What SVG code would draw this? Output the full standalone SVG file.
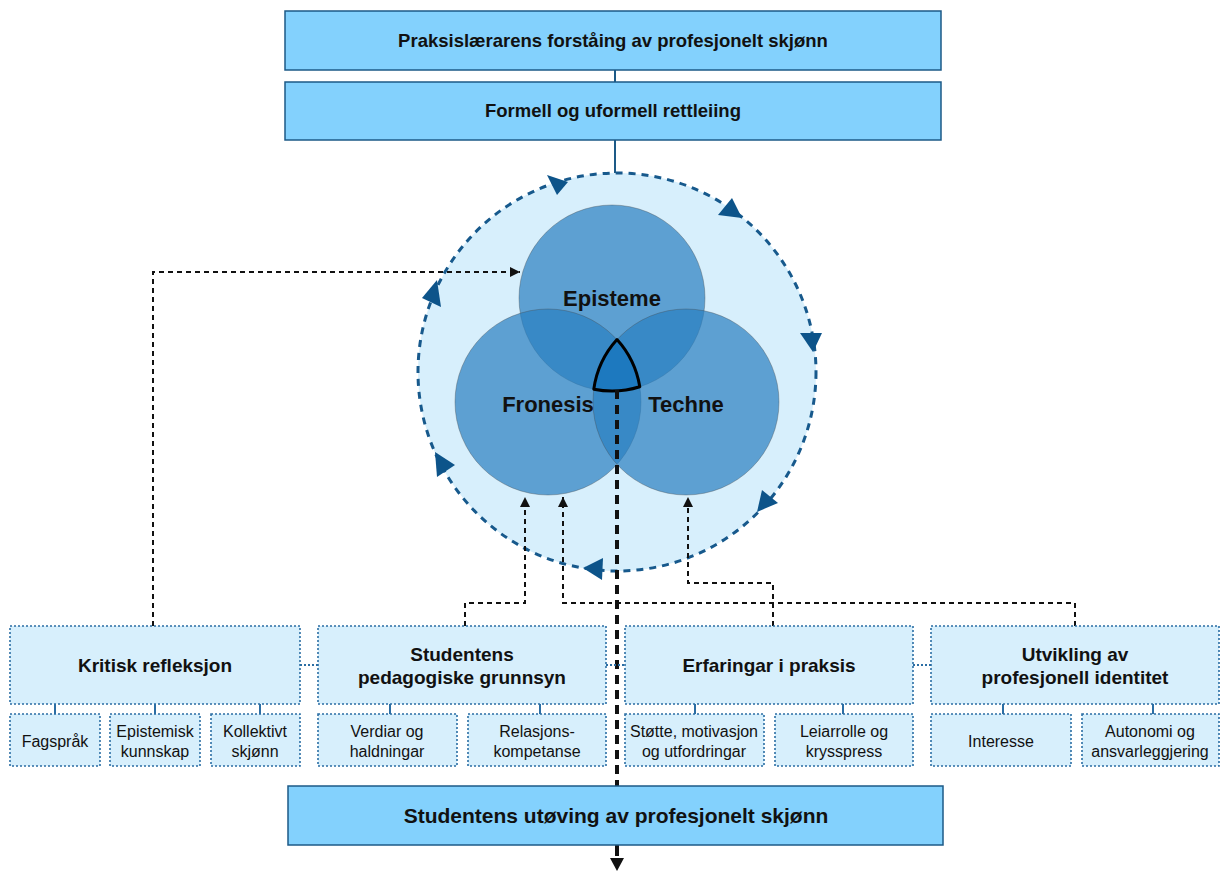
<svg xmlns="http://www.w3.org/2000/svg" width="1221" height="873" viewBox="0 0 1221 873">
<style>
text{font-family:"Liberation Sans",Arial,sans-serif;fill:#111;text-anchor:middle}
.hb{fill:#83d1fd;stroke:#1d5a87;stroke-width:1.5}
.mb{fill:#d7effc;stroke:#2b6ea4;stroke-width:1.6;stroke-dasharray:2 2}
.t1{font-size:18.5px;font-weight:bold}
.t2{font-size:21px;font-weight:bold}
.tm{font-size:19px;font-weight:bold}
.ts{font-size:16px}
.tv{font-size:22px;font-weight:bold}
.venn{fill:#2a7fc0;fill-opacity:0.7;stroke:#444;stroke-opacity:0.35;stroke-width:1}
.bl{fill:none;stroke:#111;stroke-width:2;stroke-dasharray:5 4}
.sub{stroke:#2b6ea4;stroke-width:2}
.dot{fill:none;stroke:#2b6ea4;stroke-width:2;stroke-dasharray:2 2}
.ah{fill:#0d548a}
</style>
<defs>
<marker id="blk" markerUnits="userSpaceOnUse" markerWidth="12" markerHeight="12" refX="10" refY="5" orient="auto">
<path d="M0,0 L10,5 L0,10 Z" fill="#111"/>
</marker>
</defs>

<g id="cycle">
<circle cx="617" cy="372" r="199" fill="#d7effc" stroke="#17598c" stroke-width="3" stroke-dasharray="7 6"/>
<polygon class="ah" points="547,175 568,182 557,195"/>
<polygon class="ah" points="732,198 718,215 742,218"/>
<polygon class="ah" points="800,333 822,333 813,352"/>
<polygon class="ah" points="762,490 778,503 757,512"/>
<polygon class="ah" points="583,568 603,558 602,580"/>
<polygon class="ah" points="435,452 455,465 437,477"/>
<polygon class="ah" points="422,298 437,280 441,307"/>
</g>

<g id="venn">
<circle class="venn" cx="612" cy="298" r="93"/>
<circle class="venn" cx="548" cy="402" r="93"/>
<circle class="venn" cx="686" cy="402" r="93"/>
<path d="M593.8,389.3 A93,93 0 0 1 617,339.6 A93,93 0 0 1 639.8,386.8 A93,93 0 0 1 593.8,389.3 Z" fill="#1d79bf" stroke="#000" stroke-width="3" stroke-linejoin="round"/>
<text class="tv" x="612" y="306">Episteme</text>
<text class="tv" x="548" y="412">Fronesis</text>
<text class="tv" x="686" y="412">Techne</text>
</g>

<g id="connectors">
<line x1="615" y1="70" x2="615" y2="82" stroke="#1d5a87" stroke-width="2"/>
<line x1="615" y1="140" x2="615" y2="173" stroke="#1d5a87" stroke-width="2"/>
<path class="bl" d="M153,626 V272 H520" marker-end="url(#blk)"/>
<path class="bl" d="M465,626 V603 H525 V497" marker-end="url(#blk)"/>
<path class="bl" d="M1075,626 V603 H563 V497" marker-end="url(#blk)"/>
<path class="bl" d="M773,626 V583 H688 V497" marker-end="url(#blk)"/>
<line x1="617" y1="390" x2="617" y2="786" stroke="#111" stroke-width="4" stroke-dasharray="9 6"/>
<line x1="617" y1="845" x2="617" y2="856" stroke="#111" stroke-width="4"/>
<polygon points="610,858 624,858 617,871" fill="#111"/>
<path class="dot" d="M300,665 H318 M606,665 H625 M913,665 H931"/>
<path class="sub" d="M55,704 V714 M155,704 V714 M260,704 V714 M390,704 V714 M540,704 V714 M695,704 V714 M843,704 V714 M1003,704 V714 M1153,704 V714"/>
</g>

<g id="n-praksislaerar">
<rect class="hb" x="285" y="11" width="656" height="59"/>
<text class="t1" x="613" y="47">Praksislærarens forståing av profesjonelt skjønn</text>
</g>
<g id="n-rettleiing">
<rect class="hb" x="285" y="82" width="656" height="58"/>
<text class="t1" x="613" y="117">Formell og uformell rettleiing</text>
</g>

<g id="n-kritisk">
<rect class="mb" x="10" y="626" width="290" height="78"/>
<text class="tm" x="155" y="672">Kritisk refleksjon</text>
</g>
<g id="n-grunnsyn">
<rect class="mb" x="318" y="626" width="288" height="78"/>
<text class="tm" x="462" y="661">Studentens</text>
<text class="tm" x="462" y="684">pedagogiske grunnsyn</text>
</g>
<g id="n-erfaringar">
<rect class="mb" x="625" y="626" width="288" height="78"/>
<text class="tm" x="769" y="672">Erfaringar i praksis</text>
</g>
<g id="n-identitet">
<rect class="mb" x="931" y="626" width="288" height="78"/>
<text class="tm" x="1075" y="661">Utvikling av</text>
<text class="tm" x="1075" y="684">profesjonell identitet</text>
</g>

<g id="n-fagsprak">
<rect class="mb" x="10" y="714" width="90" height="52"/>
<text class="ts" x="55" y="747">Fagspråk</text>
</g>
<g id="n-epistemisk">
<rect class="mb" x="110" y="714" width="90" height="52"/>
<text class="ts" x="155" y="737">Epistemisk</text>
<text class="ts" x="155" y="757">kunnskap</text>
</g>
<g id="n-kollektivt">
<rect class="mb" x="211" y="714" width="89" height="52"/>
<text class="ts" x="255" y="737">Kollektivt</text>
<text class="ts" x="255" y="757">skjønn</text>
</g>
<g id="n-verdiar">
<rect class="mb" x="318" y="714" width="139" height="52"/>
<text class="ts" x="387" y="737">Verdiar og</text>
<text class="ts" x="387" y="757">haldningar</text>
</g>
<g id="n-relasjons">
<rect class="mb" x="468" y="714" width="138" height="52"/>
<text class="ts" x="537" y="737">Relasjons-</text>
<text class="ts" x="537" y="757">kompetanse</text>
</g>
<g id="n-stotte">
<rect class="mb" x="625" y="714" width="139" height="52"/>
<text class="ts" x="694" y="737">Støtte, motivasjon</text>
<text class="ts" x="694" y="757">og utfordringar</text>
</g>
<g id="n-leiarrolle">
<rect class="mb" x="775" y="714" width="138" height="52"/>
<text class="ts" x="844" y="737">Leiarrolle og</text>
<text class="ts" x="844" y="757">krysspress</text>
</g>
<g id="n-interesse">
<rect class="mb" x="931" y="714" width="140" height="52"/>
<text class="ts" x="1001" y="747">Interesse</text>
</g>
<g id="n-autonomi">
<rect class="mb" x="1082" y="714" width="137" height="52"/>
<text class="ts" x="1150" y="737">Autonomi og</text>
<text class="ts" x="1150" y="757">ansvarleggjering</text>
</g>

<g id="n-utoving">
<rect class="hb" x="288" y="786" width="655" height="59" stroke="#222"/>
<text class="t2" x="616" y="823">Studentens utøving av profesjonelt skjønn</text>
</g>
</svg>
